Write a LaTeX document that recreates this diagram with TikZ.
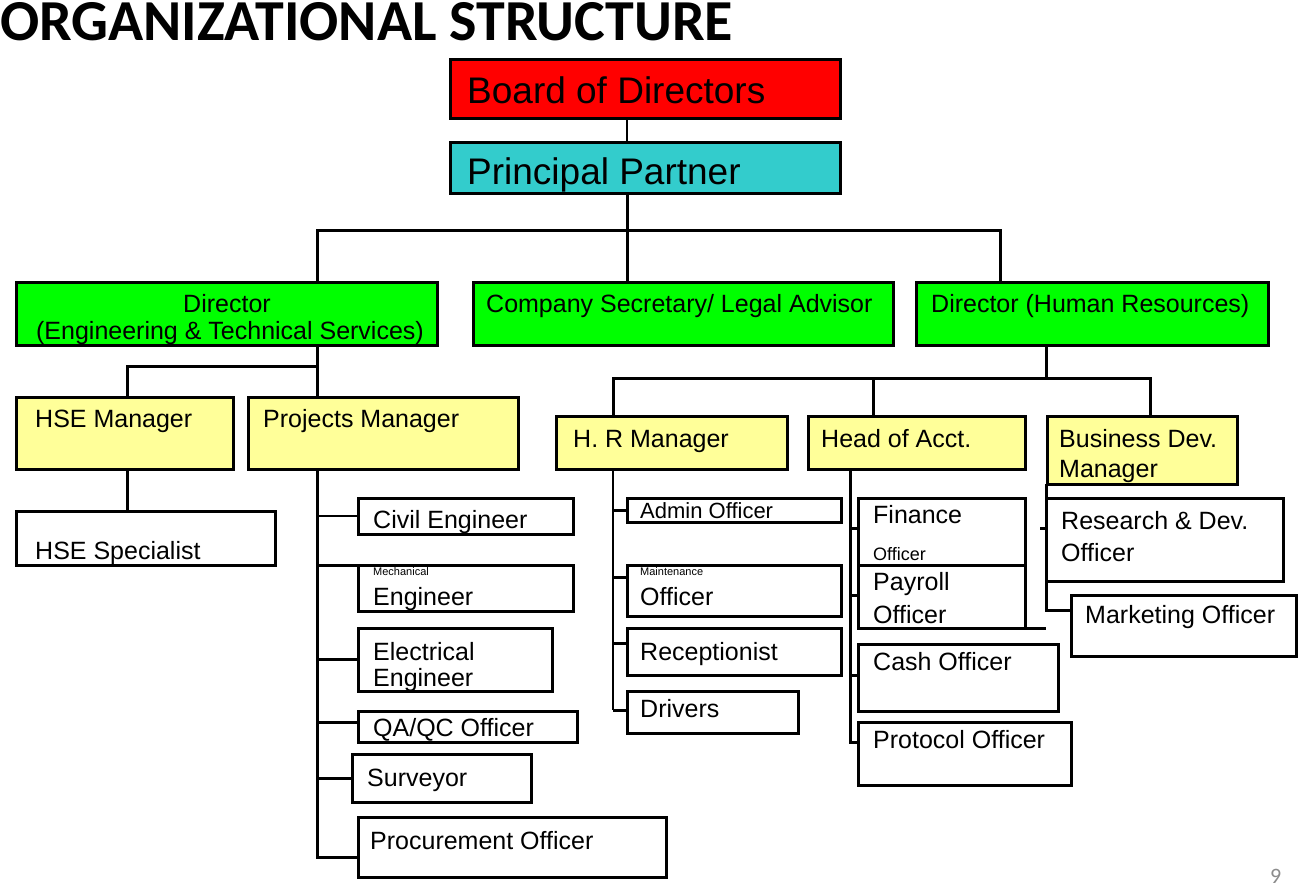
\documentclass[tikz,border=0pt]{standalone}
\usepackage{fontspec}
\setmainfont{Liberation Sans}
\newfontfamily\carl{Carlito}
\definecolor{bodred}{HTML}{FF0000}
\definecolor{ppcyan}{HTML}{33CCCC}
\definecolor{dirgreen}{HTML}{00FF00}
\definecolor{mgryellow}{HTML}{FFFF99}
\definecolor{pagegray}{HTML}{8C8C8C}
\begin{document}
\begin{tikzpicture}[x=1pt,y=-1pt,
 box/.style={draw, line width=3pt, inner sep=0pt, outer sep=0pt, anchor=north west},
 conn/.style={line width=3pt},
 midc/.style={line width=1.8pt},
 thinc/.style={line width=1.2pt},
 txt/.style={anchor=base west, inner sep=0pt, font=\fontsize{25}{30}\selectfont},
 txtc/.style={anchor=base, inner sep=0pt, font=\fontsize{25}{30}\selectfont},
 big/.style={anchor=base west, inner sep=0pt, font=\fontsize{37}{44}\selectfont},
 tiny/.style={anchor=base west, inner sep=0pt, font=\fontsize{11}{13}\selectfont},
]
\fill[white] (0,0) rectangle (1298,888);
\useasboundingbox (0,0) rectangle (1298,888);

% title and page number
\node[anchor=base west, inner sep=0pt, text height=37pt, text depth=1pt, font=\carl\bfseries\fontsize{58}{60}\selectfont] (title) at (0,41) {ORGANIZATIONAL STRUCTURE};
\node[anchor=base west, inner sep=0pt, text=pagegray, font=\carl\fontsize{22}{24}\selectfont] (page) at (1270,883) {9};

% boxes
\node[box,fill=bodred,minimum width=390pt,minimum height=59pt] (bod) at (450,60) {};
\node[box,fill=ppcyan,minimum width=390pt,minimum height=50pt] (pp) at (450,143) {};
\node[box,fill=dirgreen,minimum width=421pt,minimum height=63pt] (dirE) at (16,282) {};
\node[box,fill=dirgreen,minimum width=420pt,minimum height=63pt] (cs) at (473,282) {};
\node[box,fill=dirgreen,minimum width=352pt,minimum height=63pt] (dirHR) at (916,282) {};
\node[box,fill=mgryellow,minimum width=217pt,minimum height=72pt] (hsem) at (16,397) {};
\node[box,fill=mgryellow,minimum width=270pt,minimum height=72pt] (pm) at (248,397) {};
\node[box,fill=white,minimum width=259pt,minimum height=54pt] (hses) at (16,511) {};
\node[box,fill=white,minimum width=215pt,minimum height=36pt] (civ) at (358,498) {};
\node[box,fill=white,minimum width=215pt,minimum height=46pt] (mech) at (358,565) {};
\node[box,fill=white,minimum width=194pt,minimum height=63pt] (elec) at (358,628) {};
\node[box,fill=white,minimum width=219pt,minimum height=31pt] (qa) at (358,711) {};
\node[box,fill=white,minimum width=179pt,minimum height=48pt] (surv) at (352,754) {};
\node[box,fill=white,minimum width=308pt,minimum height=60pt] (proc) at (358,817) {};
\node[box,fill=mgryellow,minimum width=231pt,minimum height=53pt] (hrm) at (556,416) {};
\node[box,fill=mgryellow,minimum width=217pt,minimum height=53pt] (hoa) at (808,416) {};
\node[box,fill=mgryellow,minimum width=190pt,minimum height=68pt] (bdm) at (1047,416) {};
\node[box,fill=white,minimum width=214pt,minimum height=24pt] (adm) at (627,498) {};
\node[box,fill=white,minimum width=214pt,minimum height=51pt] (mnt) at (627,565) {};
\node[box,fill=white,minimum width=214pt,minimum height=47pt] (rec) at (627,628) {};
\node[box,fill=white,minimum width=171pt,minimum height=42pt] (drv) at (627,691) {};
\node[box,fill=white,minimum width=167pt,minimum height=67pt] (fin) at (858,498) {};
\node[box,fill=white,minimum width=167pt,minimum height=63pt] (pay) at (858,565) {};
\node[box,fill=white,minimum width=200pt,minimum height=67pt] (cash) at (858,644) {};
\node[box,fill=white,minimum width=213pt,minimum height=63pt] (prot) at (858,722) {};
\node[box,fill=white,minimum width=237pt,minimum height=83pt] (rnd) at (1046,498) {};
\node[box,fill=white,minimum width=225pt,minimum height=61pt] (mkt) at (1071,595) {};

% texts
\node[big] (t-bod) at (467,104) {Board of Directors};
\node[big] (t-pp) at (467,184) {Principal Partner};
\node[txtc] (t-dirE1) at (227,312) {Director};
\node[txtc] (t-dirE2) at (230,339) {(Engineering \& Technical Services)};
\node[txt] (t-cs) at (486,312) {Company Secretary/ Legal Advisor};
\node[txt] (t-dirHR) at (931,312) {Director (Human Resources)};
\node[txt] (t-hsem) at (35,427) {HSE Manager};
\node[txt] (t-pm) at (263,427) {Projects Manager};
\node[txt] (t-hses) at (35,559) {HSE Specialist};
\node[txt] (t-civ) at (373,528) {Civil Engineer};
\node[tiny] (t-mech1) at (373,575) {Mechanical};
\node[txt] (t-mech2) at (373,605) {Engineer};
\node[txt] (t-elec1) at (373,660) {Electrical};
\node[txt] (t-elec2) at (373,686) {Engineer};
\node[txt] (t-qa) at (373,736) {QA/QC Officer};
\node[txt] (t-surv) at (367,786) {Surveyor};
\node[txt] (t-proc) at (370,849) {Procurement Officer};
\node[txt] (t-hrm) at (573,447) {H. R Manager};
\node[txt] (t-hoa) at (821,447) {Head of Acct.};
\node[txt] (t-bdm1) at (1059,447) {Business Dev.};
\node[txt] (t-bdm2) at (1059,477) {Manager};
\node[anchor=base west, inner sep=0pt, font=\fontsize{22}{26}\selectfont] (t-adm) at (640,518) {Admin Officer};
\node[tiny] (t-mnt1) at (640,575) {Maintenance};
\node[txt] (t-mnt2) at (640,605) {Officer};
\node[txt] (t-rec) at (640,660) {Receptionist};
\node[txt] (t-drv) at (640,717) {Drivers};
\node[txt] (t-fin1) at (873,523) {Finance};
\node[anchor=base west, inner sep=0pt, font=\fontsize{18}{20}\selectfont] (t-fin2) at (873,560) {Officer};
\node[txt] (t-pay1) at (873,590) {Payroll};
\node[txt] (t-pay2) at (873,623) {Officer};
\node[txt] (t-cash) at (873,670) {Cash Officer};
\node[txt] (t-prot) at (873,748) {Protocol Officer};
\node[txt] (t-rnd1) at (1061,529) {Research \& Dev.};
\node[txt] (t-rnd2) at (1061,561) {Officer};
\node[txt] (t-mkt) at (1085,623) {Marketing Officer};

% top connectors
\coordinate (c1) at (627,230);
\draw[midc] (c1 |- bod.south) -- (c1 |- pp.north);
\draw[conn] (c1 |- pp.south) -- (c1 |- cs.north);
\coordinate (cE) at (317,230);
\coordinate (cH) at (1000,230);
\draw[conn] (cE |- dirE.north) -- (cE) -- (cH) -- (cH |- dirHR.north);

% engineering
\coordinate (e1) at (317,366);
\coordinate (e2) at (127,366);
\draw[conn] (e1 |- dirE.south) -- (e1 |- pm.north);
\draw[conn] (e1) -- (e2) -- (e2 |- hsem.north);
\draw[conn] (e2 |- hsem.south) -- (e2 |- hses.north);

% projects spine
\coordinate (ps) at (317,857);
\draw[conn] (ps |- pm.south) -- (ps) -- (proc.west |- ps);
\draw[thinc] (ps |- civ.west) -- (civ.west);
\draw[conn] (ps |- mech.north west) -- (mech.north west);
\draw[conn] (ps |- elec.west) -- (elec.west);
\coordinate (q1) at (317,722);
\draw[conn] (q1) -- (q1 -| qa.west);
\draw[conn] (ps |- surv.west) -- (surv.west);

% HR director
\coordinate (h0) at (1046,378);
\coordinate (hL) at (613,378);
\coordinate (hM) at (873,378);
\coordinate (hR) at (1150,378);
\draw[conn] (h0 |- dirHR.south) -- (h0);
\draw[conn] (hL |- hrm.north) -- (hL) -- (hR) -- (hR |- bdm.north);
\draw[conn] (hM) -- (hM |- hoa.north);

% HR manager spine
\coordinate (s1) at (613,710);
\draw[thinc] (s1 |- hrm.south) -- (s1);
\draw[conn] (s1 |- adm.west) -- (adm.west);
\coordinate (m1) at (613,577);
\draw[conn] (m1) -- (m1 -| mnt.west);
\coordinate (r1) at (613,643);
\draw[conn] (r1) -- (r1 -| rec.west);
\draw[conn] (s1) -- (s1 -| drv.west);

% accounts spine
\coordinate (a1) at (850,742);
\draw[conn] (a1 |- hoa.south) -- (a1) -- (a1 -| prot.west);
\coordinate (a2) at (850,528);
\draw[conn] (a2) -- (a2 -| fin.west);
\coordinate (a3) at (850,595);
\draw[conn] (a3) -- (a3 -| pay.west);
\coordinate (a4) at (850,675);
\draw[conn] (a4) -- (a4 -| cash.west);
\coordinate (pe) at (1046,628);
\draw[conn] (pay.south east) -- (pe);

% business development spine
\coordinate (b1) at (1046,610);
\draw[conn] (b1 |- bdm.south) -- (b1) -- (b1 -| mkt.west);
\coordinate (b2) at (1040,528);
\draw[conn] (b2) -- (b2 -| rnd.west);
\end{tikzpicture}
\end{document}
